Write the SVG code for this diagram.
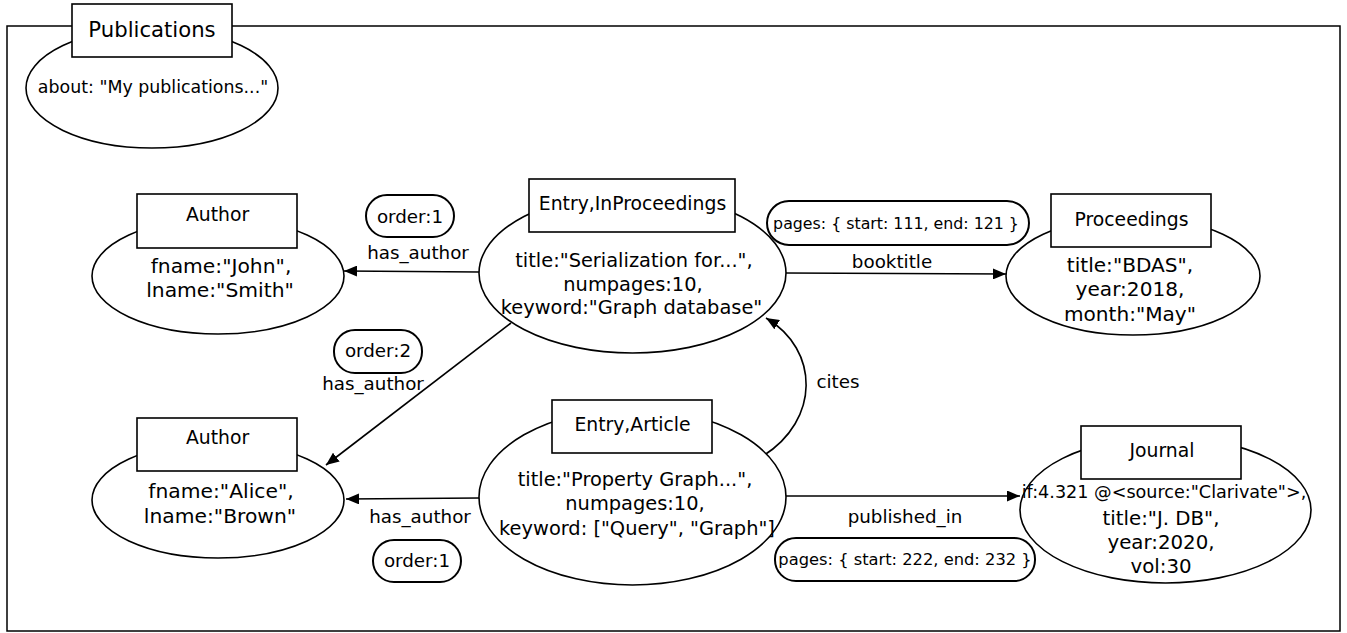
<svg xmlns="http://www.w3.org/2000/svg" width="1347" height="633" viewBox="0 0 1347 633">
<style>
text{font-family:"DejaVu Sans","Liberation Sans",sans-serif;fill:#000;text-anchor:middle}
.sh{fill:#fff;stroke:#000;stroke-width:1.6}
.pill{fill:#fff;stroke:#000;stroke-width:2}
.ed{fill:none;stroke:#000;stroke-width:1.6;marker-end:url(#ah)}
.lb{font-size:18.3px}
.hd{font-size:18.8px}
.bd{font-size:19.4px}
.pg{font-size:16px}
</style>
<defs>
<marker id="ah" viewBox="0 0 13 11" refX="13" refY="5.5" markerWidth="13" markerHeight="11" markerUnits="userSpaceOnUse" orient="auto">
<path d="M0,0 L13,5.5 L0,11 Z" fill="#000"/>
</marker>
</defs>
<rect x="7" y="26" width="1333" height="605" fill="#fff" stroke="#000" stroke-width="1.5"/>
<g id="connectors">
<path class="ed" d="M479,272 L344,271"/>
<path class="ed" d="M786,273 L1006,274"/>
<path class="ed" d="M511,323 L326,465"/>
<path class="ed" d="M479,498 L346,499"/>
<path class="ed" d="M786,496 L1020,496"/>
<path class="ed" d="M763,456 C820,420 820,350 766,318"/>
<rect class="pill" x="366" y="195" width="88" height="42" rx="21"/>
<text class="lb" x="410" y="223">order:1</text>
<text class="lb" x="418" y="259">has_author</text>
<rect class="pill" x="767" y="201" width="262" height="44" rx="22"/>
<text class="pg" x="896" y="229" style="font-size:15.8px">pages: { start: 111, end: 121 }</text>
<text class="lb" x="892" y="268">booktitle</text>
<rect class="pill" x="334" y="330" width="88" height="43" rx="21"/>
<text class="lb" x="378" y="357">order:2</text>
<text class="lb" x="373" y="390">has_author</text>
<text class="lb" x="420" y="523">has_author</text>
<rect class="pill" x="373" y="540" width="88" height="42" rx="21"/>
<text class="lb" x="417" y="567">order:1</text>
<text class="lb" x="838" y="388">cites</text>
<text class="lb" x="905" y="523">published_in</text>
<rect class="pill" x="775" y="538" width="260" height="43" rx="21"/>
<text class="pg" x="905" y="565" style="font-size:16.3px">pages: { start: 222, end: 232 }</text>
</g>
<g id="publications">
<ellipse class="sh" cx="152" cy="88" rx="126" ry="60"/>
<rect class="sh" x="72" y="4" width="160" height="53"/>
<text x="152" y="37" style="font-size:21.2px">Publications</text>
<text x="153" y="93" style="font-size:17.4px">about: "My publications..."</text>
</g>
<g id="author1">
<ellipse class="sh" cx="218" cy="276" rx="126" ry="58"/>
<rect class="sh" x="137" y="194" width="160" height="54"/>
<text class="hd" x="217.5" y="221">Author</text>
<text x="221" y="273" style="font-size:20.3px">fname:"John",</text>
<text x="220" y="297" style="font-size:20.3px">lname:"Smith"</text>
</g>
<g id="inproceedings">
<ellipse class="sh" cx="632.5" cy="273" rx="153.5" ry="80"/>
<rect class="sh" x="529" y="179" width="206" height="53"/>
<text class="hd" x="632.5" y="210">Entry,InProceedings</text>
<text class="bd" x="634" y="267">title:"Serialization for...",</text>
<text class="bd" x="633" y="291">numpages:10,</text>
<text class="bd" x="631.5" y="314">keyword:"Graph database"</text>
</g>
<g id="proceedings">
<ellipse class="sh" cx="1133" cy="276" rx="127" ry="59"/>
<rect class="sh" x="1051" y="194" width="160" height="53"/>
<text class="hd" x="1131.5" y="226">Proceedings</text>
<text x="1130" y="272" style="font-size:20.1px">title:"BDAS",</text>
<text x="1130" y="296" style="font-size:20.1px">year:2018,</text>
<text x="1130" y="321" style="font-size:20.1px">month:"May"</text>
</g>
<g id="author2">
<ellipse class="sh" cx="218" cy="500" rx="126" ry="58"/>
<rect class="sh" x="137" y="418" width="160" height="53"/>
<text class="hd" x="217.5" y="444">Author</text>
<text x="221" y="498" style="font-size:20.3px">fname:"Alice",</text>
<text x="220" y="523" style="font-size:20.3px">lname:"Brown"</text>
</g>
<g id="article">
<ellipse class="sh" cx="632.5" cy="497" rx="153.5" ry="88"/>
<rect class="sh" x="552" y="400" width="160" height="53"/>
<text class="hd" x="632.5" y="431">Entry,Article</text>
<text class="bd" x="635" y="486">title:"Property Graph...",</text>
<text class="bd" x="635" y="510">numpages:10,</text>
<text class="bd" x="637" y="535">keyword: ["Query", "Graph"]</text>
</g>
<g id="journal">
<ellipse class="sh" cx="1165.5" cy="510" rx="145.5" ry="73"/>
<rect class="sh" x="1081" y="426" width="160" height="53"/>
<text class="hd" x="1162" y="457">Journal</text>
<text x="1164" y="498" style="font-size:17.6px">if:4.321 @&lt;source:"Clarivate"&gt;,</text>
<text x="1161" y="525" style="font-size:19.8px">title:"J. DB",</text>
<text x="1161" y="549" style="font-size:19.8px">year:2020,</text>
<text x="1161" y="573" style="font-size:19.8px">vol:30</text>
</g>
</svg>
